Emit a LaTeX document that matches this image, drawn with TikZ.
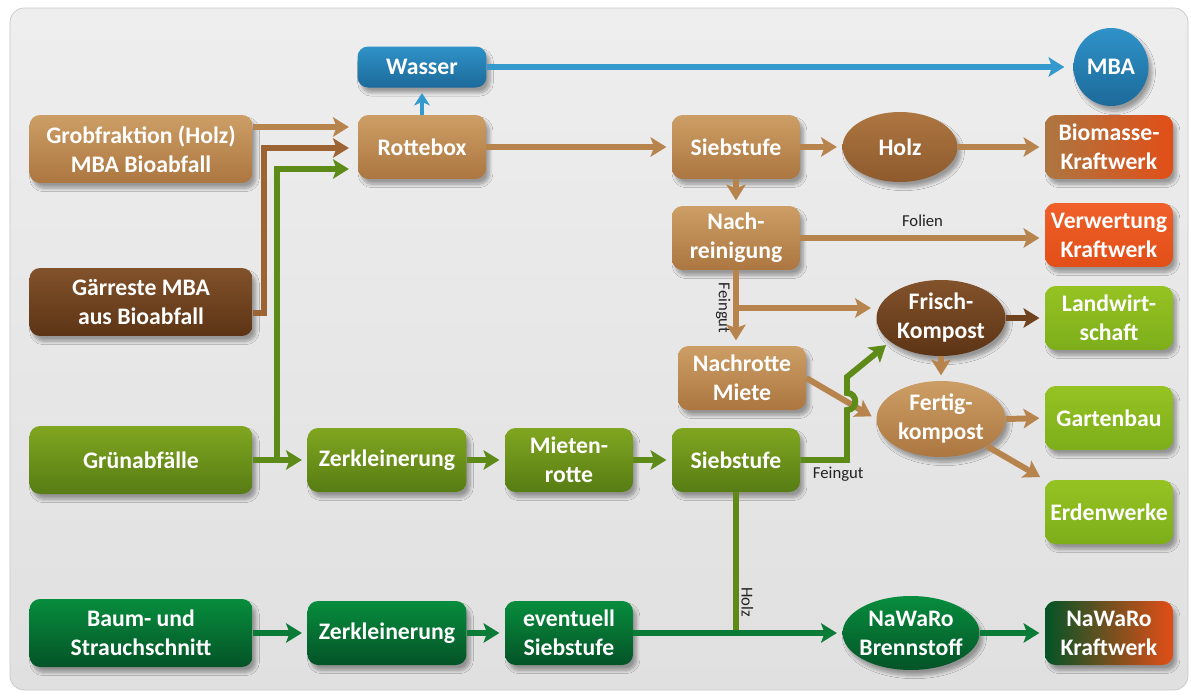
\documentclass[tikz,border=0pt]{standalone}
\usepackage{fontspec}
\setmainfont{Carlito}
\usetikzlibrary{positioning, calc, shapes.geometric, shadows.blur, arrows.meta}
\definecolor{panelA}{HTML}{EEEEEE}
\definecolor{panelB}{HTML}{E0E0E0}
\definecolor{panelrule}{HTML}{C8C8C8}
\definecolor{tanA}{HTML}{CC9E65}
\definecolor{tanB}{HTML}{AC7640}
\definecolor{woodA}{HTML}{AD7641}
\definecolor{woodB}{HTML}{8E5A2D}
\definecolor{darkbrA}{HTML}{82522B}
\definecolor{darkbrB}{HTML}{5C3415}
\definecolor{rustA}{HTML}{F0602A}
\definecolor{rustB}{HTML}{E24E17}
\definecolor{limeA}{HTML}{96C323}
\definecolor{limeB}{HTML}{7DAE1A}
\definecolor{oliveA}{HTML}{80A620}
\definecolor{oliveB}{HTML}{577C14}
\definecolor{forestA}{HTML}{078D3D}
\definecolor{forestB}{HTML}{045327}
\definecolor{skyA}{HTML}{2F92C8}
\definecolor{skyB}{HTML}{1C6A9A}
\definecolor{tanline}{HTML}{B8844E}
\definecolor{rustline}{HTML}{9C6434}
\definecolor{compline}{HTML}{6F4220}
\definecolor{oliveline}{HTML}{5E8A18}
\definecolor{forestline}{HTML}{0B7B38}
\definecolor{skyline}{HTML}{3499CC}
\definecolor{tagc}{HTML}{222222}
\newcommand{\BoxF}{\fontsize{13.5}{16.5}\selectfont\bfseries}
\newcommand{\TagF}{\fontsize{9.5}{11}\selectfont}

\begin{document}
\begin{tikzpicture}[x=0.02cm, y=-0.02cm,
  shade/.style={blur shadow={shadow xshift=2pt, shadow yshift=-3pt, shadow opacity=35, shadow blur steps=8}},
  box/.style={shade, rounded corners=6pt, minimum width=2.56cm, minimum height=1.28cm,
              inner sep=2pt, align=center, text=white, font=\BoxF},
  wide/.style={box, minimum width=4.46cm, minimum height=1.36cm},
  oval/.style={shade, ellipse, inner sep=0pt},
  ovaltext/.style={align=center, text=white, font=\BoxF, inner sep=0pt},
  tan/.style={top color=tanA, bottom color=tanB},
  lime/.style={top color=limeA, bottom color=limeB},
  olive/.style={top color=oliveA, bottom color=oliveB},
  forest/.style={top color=forestA, bottom color=forestB},
  flow/.style={line width=3.4pt, -{Stealth[length=9pt, width=11pt, inset=2pt]},
               shorten >=3pt},
  tag/.style={font=\TagF, text=tagc, inner sep=1.5pt}]

  \useasboundingbox (0,0) rectangle (1191,697);
  \fill[white] (0,0) rectangle (1191,697);
  \draw[panelrule, top color=panelA, bottom color=panelB, rounded corners=8pt]
    (10,8) rectangle (1188,690);

  \node[box, top color=skyA, bottom color=skyB, minimum height=0.82cm, minimum width=2.58cm]
    (wasser) at (422,67) {Wasser};
  \node[oval, top color=skyA, bottom color=skyB, minimum width=1.5cm, minimum height=1.56cm,
        text=white, font=\BoxF] (mba) at (1111,67) {MBA};

  \node[wide, tan] (grob) at (141,149) {Grobfraktion (Holz)\\MBA Bioabfall};
  \node[box, tan] (rotte) at (422,147) {Rottebox};
  \node[box, tan] (sieb1) at (736,147) {Siebstufe};
  \node[oval, top color=woodA, bottom color=woodB, minimum width=2.3cm, minimum height=1.4cm,
        text=white, font=\BoxF] (holz) at (900,147) {Holz};
  \node[box, left color=woodA, right color=rustB] (bio) at (1109,147) {Biomasse-\\Kraftwerk};

  \node[box, tan] (nach) at (736,238) {Nach-\\reinigung};
  \node[box, top color=rustA, bottom color=rustB] (verw) at (1109,235) {Verwertung\\Kraftwerk};

  \node[wide, top color=darkbrA, bottom color=darkbrB] (gaer) at (141,302) {G\"arreste MBA\\aus Bioabfall};
  \node[oval, top color=darkbrA, bottom color=darkbrB, minimum width=2.58cm, minimum height=1.52cm,
        label={[ovaltext]center:Frisch-\\Kompost}] (frisch) at (941,318) {};
  \node[box, lime] (land) at (1109,318) {Landwirt-\\schaft};

  \node[box, tan] (nachr) at (742,378) {Nachrotte\\Miete};
  \node[oval, tan, minimum width=2.58cm, minimum height=1.52cm,
        label={[ovaltext]center:Fertig-\\kompost}] (fertig) at (941,419) {};
  \node[box, lime] (garten) at (1109,418) {Gartenbau};
  \node[box, lime] (erden) at (1109,512) {Erdenwerke};

  \node[wide, olive] (gruen) at (141,460) {Gr\"unabf\"alle};
  \node[box, olive, minimum width=3.18cm] (zerk1) at (387,460) {Zerkleinerung};
  \node[box, olive] (miet) at (569,460) {Mieten-\\rotte};
  \node[box, olive] (sieb2) at (736,460) {Siebstufe};

  \node[wide, forest] (baum) at (141,633) {Baum- und\\Strauchschnitt};
  \node[box, forest, minimum width=3.18cm] (zerk2) at (387,633) {Zerkleinerung};
  \node[box, forest] (evsieb) at (569,633) {eventuell\\Siebstufe};
  \node[oval, forest, minimum width=2.74cm, minimum height=1.48cm,
        label={[ovaltext]center:NaWaRo\\Brennstoff}] (brenn) at (911,633) {};
  \node[box, left color=forestB, middle color=forestA!45!rustB, right color=rustB]
    (nkraft) at (1109,633) {NaWaRo\\Kraftwerk};

  \coordinate (gsplit) at (277,460);
  \coordinate (fsplit) at (nach.south |- 0,308);
  \coordinate (hsplit) at (sieb2.south |- evsieb.east);

  \draw[flow, skyline, line width=2.6pt, -{Stealth[length=7pt, width=9pt, inset=2pt]}]
    (rotte.north) -- (wasser.south);
  \draw[flow, skyline, shorten >=5pt] (wasser.east) -- (mba.west);

  \draw[flow, tanline, shorten >=5pt] (grob.east |- 0,127) -- (rotte.west |- 0,127);
  \draw[flow, rustline, shorten >=5pt] (gaer.east |- 0,313) -| (264,148) -- (rotte.west |- 0,148);
  \draw[flow, oliveline, shorten >=5pt] (gsplit) |- (rotte.west |- 0,169);

  \draw[flow, tanline] (rotte.east) -- (sieb1.west);
  \draw[flow, tanline] (sieb1.east) -- (holz.west);
  \draw[flow, tanline] (holz.east) -- (bio.west);
  \draw[flow, tanline] (sieb1.south) -- (nach.north);
  \draw[flow, tanline] (nach.east) -- node[tag, above=3pt] {Folien} (nach.east -| verw.west);
  \draw[flow, tanline] (nach.south) -- node[tag, rotate=-90, anchor=north, pos=0.5] {Feingut}
    (nach.south |- nachr.north);
  \draw[flow, tanline] (fsplit) -- (frisch.west |- fsplit);
  \draw[flow, compline] (frisch.east) -- (land.west);
  \draw[flow, tanline] (frisch.south) -- (fertig.north);
  \draw[flow, tanline] (nachr.east) -- (fertig.west);
  \draw[flow, tanline] (fertig.east) -- (garten.west);
  \draw[flow, tanline] (fertig.south east) -- (erden.north west);

  \draw[flow, oliveline] (gruen.east) -- (zerk1.west);
  \draw[flow, oliveline] (zerk1.east) -- (miet.west);
  \draw[flow, oliveline] (miet.east) -- (sieb2.west);
  \draw[flow, oliveline, line join=miter] (sieb2.east) -- (847,460)
      node[tag, anchor=north, xshift=-5pt, yshift=-1pt] {Feingut}
    -- (847,410) .. controls (858,410) and (858,393) .. (847,393)
    -- (847,377) -- (frisch.205);
  \draw[oliveline, line width=3.4pt] (sieb2.south) --
    node[tag, rotate=-90, anchor=south, pos=0.78] {Holz} (hsplit);

  \draw[flow, forestline] (baum.east) -- (zerk2.west);
  \draw[flow, forestline] (zerk2.east) -- (evsieb.west);
  \draw[flow, forestline] (evsieb.east) -- (brenn.west);
  \draw[flow, forestline] (brenn.east) -- (nkraft.west);
\end{tikzpicture}
\end{document}
